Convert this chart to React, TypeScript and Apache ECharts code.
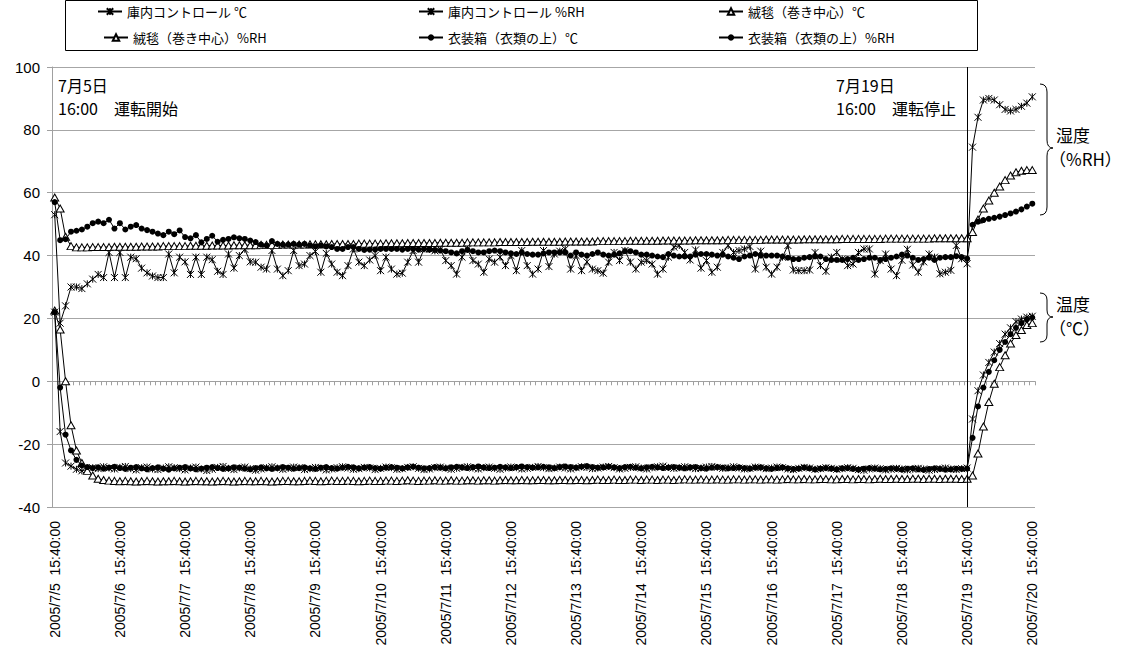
import React, { useEffect, useRef } from "react";
import * as echarts from "echarts";

const seriesNames = [
  "庫内コントロール ℃",
  "庫内コントロール %RH",
  "絨毯（巻き中心）℃",
  "絨毯（巻き中心）%RH",
  "衣装箱（衣類の上）℃",
  "衣装箱（衣類の上）%RH",
];

// 2-hour logging from 2005/7/5 15:40 to 2005/7/20 15:40
const startUTC = Date.UTC(2005, 6, 5, 15, 40, 0);
const stepHours = 2;
const pointCount = 181;
const stopIndex = 168;

const yTicks = { min: -40, max: 100, interval: 20 };

const ctrlTemp = [
  22, -16, -26, -27, -28, -28.5, -28, -27.5, -27.8, -27.2, -27.6, -27.9,
  -27.4, -27.1, -27.8, -28.2, -27.5, -27.3, -27.9, -28.1, -27.6, -27.2, -27.5, -27.8,
  -28.2, -27.6, -27.3, -27.9, -28.4, -28, -27.4, -27.1, -27.7, -28.1, -27.6, -27.3,
  -27.8, -28.3, -27.9, -27.5, -27.2, -27.6, -28, -27.7, -27.3, -27.5, -28.1, -27.8,
  -27.4, -27.7, -28.2, -27.9, -27.5, -27.2, -27.6, -28, -27.8, -27.4, -27.6, -28.1,
  -27.7, -27.3, -27.5, -28, -27.8, -27.4, -27.2, -27.7, -28.1, -27.9, -27.5, -27.3,
  -27.6, -28, -27.7, -27.4, -27.2, -27.6, -27.9, -27.5, -27.3, -27.7, -28, -27.6,
  -27.3, -27.5, -27.9, -27.7, -27.4, -27.1, -27.5, -27.8, -27.6, -27.3, -27.6, -27.9,
  -27.5, -27.2, -27.4, -27.8, -27.6, -27.3, -27.1, -27.5, -27.9, -27.7, -27.4, -27.2,
  -27.6, -27.9, -27.5, -27.2, -27, -27.4, -27.7, -27.5, -27.2, -27.5, -27.8, -27.6,
  -27.3, -27.1, -27.4, -27.7, -27.5, -27.2, -27.6, -27.9, -27.7, -27.3, -27.5, -27.8,
  -27.6, -27.3, -27.5, -27.9, -28.1, -27.7, -27.4, -27.6, -28, -27.8, -27.5, -27.7,
  -28, -27.8, -27.5, -27.7, -28.1, -28.3, -27.9, -27.6, -27.8, -28.2, -28, -27.7,
  -27.9, -28.2, -28, -27.7, -27.9, -28.3, -28.1, -27.8, -27.6, -27.9, -28.1, -27.8,
  -27.6, -12, -3, 2, 6, 9.3, 12, 15, 17, 19, 19.8, 20.4,
  20.7,
];

const ctrlRH = [
  53, 18.5, 24, 30, 30, 29.5, 31, 32.5, 34, 33, 41, 33,
  41, 33, 39.5, 39, 36, 34.5, 33.5, 33, 33, 40.5, 34.5, 39.5,
  38, 34, 39.5, 34, 39.5, 38.7, 35, 34, 40.5, 36, 40, 42,
  38, 37.9, 36.3, 35.7, 41.6, 35.7, 33.6, 35.2, 41.6, 36.8, 37.3, 40,
  41.3, 34.7, 40.7, 37.3, 34.7, 33.6, 36.8, 42.1, 37.9, 36.8, 38.6, 40,
  35.2, 39.5, 35.7, 34.1, 34.4, 37.9, 41.6, 37.9, 42.1, 42, 41.5, 42,
  38.4, 36.8, 34.1, 39.5, 42.1, 38.4, 37.3, 34.7, 38.9, 37.9, 39.5, 36.8,
  40, 35.2, 41.6, 36.8, 34.1, 35.7, 41.6, 36.5, 40.5, 41.4, 42.1, 35.7,
  40, 35.2, 38, 35.7, 35.2, 34.4, 37.9, 41, 38.4, 41.6, 37.9, 35.7,
  37.9, 38.4, 37.3, 34.1, 35.7, 39.5, 42.7, 43.2, 41, 38.6, 41.8, 36,
  38.4, 34.7, 36.3, 41, 43.2, 41, 41.6, 42.1, 42.9, 35.7, 41.4, 36.3,
  34.1, 36.3, 39.5, 43.2, 35.4, 35.2, 35.2, 35.4, 41, 36.8, 35, 39.5,
  41, 38.9, 36.8, 37.3, 41, 42.1, 42.1, 34.1, 38.4, 40.5, 35.7, 33.6,
  38.5, 42, 37, 34.7, 38, 40.5, 39.5, 34.2, 34.7, 35.3, 43.2, 39,
  37.4, 74.5, 84, 89.5, 90, 89.5, 88, 86.5, 86, 86.5, 87.5, 88.5,
  90.5,
];

const carpetTemp = [
  22.5, 16.5, 0, -14, -22, -26, -28.5, -30, -31, -31.4, -31.6, -31.7,
  -31.8, -31.7, -31.8, -31.9, -31.8, -31.7, -31.8, -31.9, -31.8, -31.8, -31.7, -31.8,
  -31.9, -31.8, -31.7, -31.8, -31.8, -31.9, -31.8, -31.7, -31.8, -31.9, -31.8, -31.7,
  -31.8, -31.8, -31.7, -31.8, -31.9, -31.8, -31.7, -31.7, -31.8, -31.8, -31.7, -31.6,
  -31.7, -31.8, -31.7, -31.6, -31.7, -31.7, -31.6, -31.7, -31.8, -31.7, -31.6, -31.7,
  -31.7, -31.6, -31.6, -31.7, -31.6, -31.5, -31.6, -31.7, -31.6, -31.6, -31.5, -31.6,
  -31.6, -31.5, -31.6, -31.6, -31.5, -31.5, -31.6, -31.5, -31.5, -31.6, -31.5, -31.4,
  -31.5, -31.5, -31.4, -31.5, -31.5, -31.4, -31.4, -31.5, -31.5, -31.4, -31.4, -31.5,
  -31.4, -31.4, -31.5, -31.4, -31.3, -31.4, -31.4, -31.3, -31.4, -31.4, -31.3, -31.3,
  -31.4, -31.3, -31.3, -31.4, -31.3, -31.3, -31.4, -31.3, -31.2, -31.3, -31.3, -31.2,
  -31.3, -31.3, -31.2, -31.3, -31.3, -31.2, -31.2, -31.3, -31.2, -31.2, -31.3, -31.2,
  -31.2, -31.3, -31.2, -31.1, -31.2, -31.2, -31.1, -31.2, -31.2, -31.1, -31.1, -31.2,
  -31.2, -31.1, -31.1, -31.2, -31.1, -31.1, -31.2, -31.1, -31, -31.1, -31.1, -31,
  -31.1, -31.1, -31, -31, -31.1, -31, -31, -31.1, -31, -31, -31, -31.1,
  -31, -30, -23, -14.4, -6.6, -0.8, 4.5, 8.3, 12, 14.7, 16.3, 17.9,
  18.5,
];

const carpetRH = [
  58.5, 55, 46, 43, 42.6, 42.6, 42.6, 42.7, 42.7, 42.7, 42.7, 42.8,
  42.8, 42.8, 42.8, 42.8, 42.9, 42.9, 42.9, 42.9, 43, 43, 43, 43,
  43, 43.1, 43.1, 43.1, 43.1, 43.2, 43.2, 43.2, 43.2, 43.3, 43.3, 43.3,
  43.3, 43.3, 43.4, 43.4, 43.4, 43.4, 43.5, 43.5, 43.5, 43.5, 43.5, 43.6,
  43.6, 43.6, 43.6, 43.7, 43.7, 43.7, 43.7, 43.7, 43.8, 43.8, 43.8, 43.8,
  43.8, 43.9, 43.9, 43.9, 43.9, 44, 44, 44, 44, 44, 44, 44.1,
  44.1, 44.1, 44.1, 44.1, 44.2, 44.2, 44.2, 44.2, 44.2, 44.2, 44.3, 44.3,
  44.3, 44.3, 44.3, 44.3, 44.4, 44.4, 44.4, 44.4, 44.4, 44.4, 44.5, 44.5,
  44.5, 44.5, 44.5, 44.5, 44.6, 44.6, 44.6, 44.6, 44.6, 44.6, 44.7, 44.7,
  44.7, 44.7, 44.7, 44.7, 44.8, 44.8, 44.8, 44.8, 44.8, 44.8, 44.9, 44.9,
  44.9, 44.9, 44.9, 44.9, 45, 45, 45, 45, 45, 45, 45, 45.1,
  45.1, 45.1, 45.1, 45.1, 45.1, 45.1, 45.2, 45.2, 45.2, 45.2, 45.2, 45.2,
  45.2, 45.3, 45.3, 45.3, 45.3, 45.3, 45.3, 45.3, 45.3, 45.4, 45.4, 45.4,
  45.4, 45.4, 45.4, 45.4, 45.4, 45.4, 45.5, 45.5, 45.5, 45.5, 45.5, 45.5,
  45.5, 47.5, 51.5, 55, 57.5, 60, 62, 64, 65.5, 66.5, 67, 67.2,
  67.2,
];

const boxTemp = [
  22, -2, -17, -22, -25, -26.8, -27.3, -27.6, -27.4, -27.8, -27.5, -27.2,
  -27.6, -27.9, -27.5, -27.3, -27.7, -28, -27.6, -27.4, -27.8, -28.1, -27.7, -27.5,
  -27.3, -27.7, -28, -27.8, -27.5, -27.3, -27.6, -27.9, -27.7, -27.4, -27.5, -27.8,
  -28, -27.6, -27.4, -27.7, -27.9, -27.6, -27.3, -27.5, -27.8, -27.6, -27.4, -27.7,
  -27.9, -27.5, -27.3, -27.6, -27.8, -27.5, -27.2, -27.4, -27.7, -27.5, -27.3, -27.6,
  -27.8, -27.5, -27.3, -27.5, -27.7, -27.4, -27.2, -27.5, -27.7, -27.6, -27.3, -27.5,
  -27.7, -27.4, -27.2, -27.4, -27.6, -27.3, -27.1, -27.4, -27.6, -27.5, -27.2, -27.4,
  -27.6, -27.3, -27.1, -27.3, -27.5, -27.4, -27.2, -27.4, -27.6, -27.3, -27.1, -27.3,
  -27.5, -27.2, -27, -27.3, -27.5, -27.4, -27.2, -27.4, -27.6, -27.3, -27.2, -27.5,
  -27.7, -27.4, -27.2, -27.4, -27.6, -27.5, -27.3, -27.5, -27.7, -27.4, -27.3, -27.6,
  -27.8, -27.5, -27.3, -27.5, -27.7, -27.6, -27.4, -27.6, -27.8, -27.5, -27.4, -27.7,
  -27.9, -27.6, -27.4, -27.7, -27.9, -27.8, -27.5, -27.7, -28, -27.8, -27.6, -27.8,
  -28, -27.7, -27.6, -27.9, -28.1, -27.8, -27.6, -27.8, -28, -27.9, -27.7, -27.9,
  -28.1, -27.8, -27.7, -28, -28.2, -27.9, -27.7, -27.9, -28.1, -28, -27.8, -27.9,
  -27.8, -18, -8, -2, 3, 6.7, 10, 12.5, 15, 17, 18.5, 19.7,
  20.3,
];

const boxRH = [
  57, 44.9, 45.2, 47.6, 47.9, 48.3, 49.2, 50.3, 50.8, 50.3, 51.4, 48.6,
  50.3, 48.3, 49.2, 49.7, 48.6, 48.1, 47.6, 47, 46.5, 47.6, 46.8, 48,
  45.9, 45.5, 46.5, 44.2, 45.3, 46.3, 44.4, 45, 45.3, 45.8, 45.5, 45.3,
  44.8, 44.3, 43.5, 43.2, 44.6, 43.7, 43.5, 43.5, 43.7, 43.5, 43.7, 43.2,
  42.9, 43.2, 42.9, 42.7, 42.1, 42.1, 42.7, 42.7, 42.1, 41.8, 41.9, 41.9,
  42.1, 42.1, 42.1, 42.1, 41.9, 42.1, 42.1, 41.9, 42.1, 41.9, 41.8, 41.6,
  41.4, 41, 40.7, 41.4, 41.8, 41.4, 41, 41, 41.4, 41.6, 41.4, 41,
  40.7, 40.5, 41, 40.5, 40.3, 40.3, 40.7, 41, 41, 41, 41, 40,
  41, 40.3, 40, 40.5, 41, 40.3, 40, 40.3, 40.7, 41.4, 41.4, 41,
  40.3, 40.3, 40, 39.7, 39.5, 40.5, 40, 39.7, 39.7, 39.7, 40.3, 40.5,
  40.5, 40.3, 40, 40.3, 39.7, 39.3, 38.9, 39.7, 40, 40.5, 40, 40,
  40, 40, 39.7, 39.3, 38.9, 38.9, 39.3, 39.5, 39.7, 39.7, 38.9, 38.6,
  38.6, 38.6, 38.9, 39.3, 38.6, 38.9, 39.3, 39.3, 38.6, 38.9, 39.3, 39.7,
  40.3, 40, 39.3, 38.6, 38.9, 39.3, 38.6, 39.3, 39.5, 39.5, 39.8, 39.5,
  39, 49.8, 50.8, 51.3, 51.7, 52, 52.4, 52.9, 53.4, 54, 54.7, 55.6,
  56.5,
];

const pad2 = (n: number) => (n < 10 ? "0" + n : "" + n);
const categories: string[] = [];
for (let i = 0; i < pointCount; i++) {
  const d = new Date(startUTC + i * stepHours * 3600 * 1000);
  categories.push(
    `${d.getUTCFullYear()}/${d.getUTCMonth() + 1}/${d.getUTCDate()}  ${pad2(d.getUTCHours())}:${pad2(d.getUTCMinutes())}:00`
  );
}

const braceRHPath =
  "M1040,84 Q1047,84 1047,92 L1047,140 Q1047,148 1053,148 Q1047,148 1047,156 L1047,207 Q1047,215 1040,215";
const braceTPath =
  "M1040,293 Q1047,293 1047,300 L1047,310 Q1047,317 1053,317 Q1047,317 1047,324 L1047,335 Q1047,342 1040,342";

const JP = '"Noto Sans CJK JP", "Noto Sans", sans-serif';
const NUM = '"Liberation Sans", Arial, sans-serif';

const asteriskSymbol = "path://M0,0L10,10M10,0L0,10M5,0L5,10";

function makeSeries(name: string, data: number[], kind: "star" | "tri" | "dot") {
  const base: any = {
    name,
    type: "line",
    data,
    xAxisIndex: 0,
    yAxisIndex: 0,
    showSymbol: true,
    showAllSymbol: true,
    lineStyle: { color: "#000", width: 1 },
    emphasis: { disabled: true },
    silent: true,
  };
  if (kind === "star") {
    base.symbol = asteriskSymbol;
    base.symbolSize = 7;
    base.itemStyle = { color: "#000", borderColor: "#000", borderWidth: 1 };
  } else if (kind === "tri") {
    base.symbol = "triangle";
    base.symbolSize = [8, 7];
    base.itemStyle = { color: "#fff", borderColor: "#000", borderWidth: 1 };
  } else {
    base.symbol = "circle";
    base.symbolSize = 6;
    base.itemStyle = { color: "#000", borderWidth: 0 };
  }
  return base;
}

const legendPositions = [
  { left: 97, top: 5 },
  { left: 418, top: 5 },
  { left: 718, top: 5 },
  { left: 103, top: 31 },
  { left: 418, top: 31 },
  { left: 718, top: 31 },
];

export default function App() {
  const ref = useRef<HTMLDivElement>(null);
  useEffect(() => {
    if (!ref.current) return;
    echarts.graphic.registerShape("braceRH", echarts.graphic.extendPath(braceRHPath, {}));
    echarts.graphic.registerShape("braceT", echarts.graphic.extendPath(braceTPath, {}));
    const chart = echarts.init(ref.current, null, { renderer: "svg" });

    const series = [
      makeSeries(seriesNames[0], ctrlTemp, "star"),
      makeSeries(seriesNames[1], ctrlRH, "star"),
      makeSeries(seriesNames[2], carpetTemp, "tri"),
      makeSeries(seriesNames[3], carpetRH, "tri"),
      makeSeries(seriesNames[4], boxTemp, "dot"),
      makeSeries(seriesNames[5], boxRH, "dot"),
    ];
    series[5].markLine = {
      silent: true,
      symbol: ["none", "none"],
      label: { show: false },
      lineStyle: { color: "#000", width: 1, type: "solid" },
      data: [{ xAxis: categories[stopIndex] }],
    };

    const textStyleBase = { fill: "#000", textVerticalAlign: "middle", verticalAlign: "middle" };

    const option: any = {
      animation: false,
      backgroundColor: "#fff",
      textStyle: { fontFamily: JP },
      grid: { left: 52, top: 67, width: 983, height: 440, containLabel: false },
      legend: seriesNames.map((n, i) => ({
        data: [n],
        left: legendPositions[i].left,
        top: legendPositions[i].top,
        padding: 0,
        itemWidth: 24,
        itemHeight: 8,
        itemGap: 0,
        selectedMode: false,
        textStyle: { fontSize: 13, color: "#000", fontFamily: JP, padding: [0, 0, 0, 0] },
      })),
      xAxis: [
        {
          type: "category",
          data: categories,
          boundaryGap: true,
          position: "bottom",
          axisLine: { show: false, onZero: false },
          axisTick: { show: false },
          splitLine: { show: false },
          axisLabel: {
            interval: 11,
            rotate: 90,
            margin: 14,
            fontSize: 14,
            color: "#000",
            fontFamily: NUM,
          },
        },
        {
          type: "category",
          data: categories,
          boundaryGap: true,
          position: "bottom",
          axisLine: { show: true, onZero: true, lineStyle: { color: "#a0a0a0", width: 1 } },
          axisTick: { show: true, interval: 0, length: 4, lineStyle: { color: "#a0a0a0" } },
          axisLabel: { show: false },
          splitLine: { show: false },
        },
      ],
      yAxis: {
        type: "value",
        min: yTicks.min,
        max: yTicks.max,
        interval: yTicks.interval,
        axisLine: { show: true, lineStyle: { color: "#a0a0a0" } },
        axisTick: { show: true, length: 5, lineStyle: { color: "#a0a0a0" } },
        axisLabel: { fontSize: 15, color: "#000", margin: 12, fontFamily: NUM },
        splitLine: { show: true, lineStyle: { color: "#a6a6a6", width: 1 } },
      },
      series,
      graphic: [
        {
          type: "rect",
          shape: { x: 65.5, y: 0.5, width: 912, height: 50 },
          style: { fill: "none", stroke: "#000", lineWidth: 1 },
          silent: true,
        },
        { type: "text", x: 58, y: 85, style: { ...textStyleBase, text: "7月5日", font: `16px ${JP}` } },
        { type: "text", x: 58, y: 108, style: { ...textStyleBase, text: "16:00　運転開始", font: `16px ${JP}` } },
        { type: "text", x: 836, y: 85, style: { ...textStyleBase, text: "7月19日", font: `16px ${JP}` } },
        { type: "text", x: 836, y: 108, style: { ...textStyleBase, text: "16:00　運転停止", font: `16px ${JP}` } },
        { type: "braceRH", style: { fill: "none", stroke: "#000", lineWidth: 1 }, silent: true },
        { type: "braceT", style: { fill: "none", stroke: "#000", lineWidth: 1 }, silent: true },
        { type: "text", x: 1056, y: 134, style: { ...textStyleBase, text: "湿度", font: `17px ${JP}` } },
        { type: "text", x: 1049, y: 158, style: { ...textStyleBase, text: "（%RH）", font: `17px ${JP}` } },
        { type: "text", x: 1056, y: 303, style: { ...textStyleBase, text: "温度", font: `17px ${JP}` } },
        { type: "text", x: 1049, y: 327, style: { ...textStyleBase, text: "（℃）", font: `17px ${JP}` } },
      ],
    };
    chart.setOption(option);
    return () => chart.dispose();
  }, []);
  return (
    <div
      ref={ref}
      style={{ position: "fixed", left: 0, top: 0, width: 1129, height: 657, background: "#fff" }}
    />
  );
}
